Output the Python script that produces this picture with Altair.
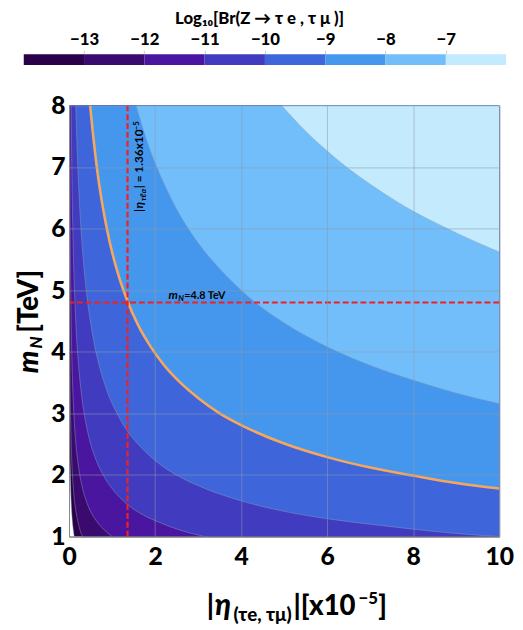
import altair as alt
import pandas as pd

# ---------------- data ----------------
LEVELS = [-14, -13, -12, -11, -10, -9, -8, -7]
BAND_COLORS = ["#2a0049", "#3b0a6e", "#4a169f", "#403bbf",
               "#3e66da", "#4597ee", "#72befa", "#c4eafd"]
CBAR_TICKS = [-13, -12, -11, -10, -9, -8, -7]
X_TICKS = [0, 2, 4, 6, 8, 10]
Y_TICKS = [1, 2, 3, 4, 5, 6, 7, 8]

# contour boundaries (|eta| in 1e-5, m_N in TeV)
ETA_L14 = [0.0019, 0.0025, 0.0033, 0.0045, 0.006, 0.008, 0.011, 0.015, 0.02, 0.027,
           0.036, 0.048, 0.064, 0.085, 0.12, 0.25, 10.0]
MN_L14 = [8.0, 6.93, 6.03, 5.16, 4.47, 3.87, 3.30, 2.83, 2.45, 2.11,
          1.83, 1.58, 1.37, 1.19, 1.0, 0.69, 0.11]

ETA_L13 = [0.0049, 0.006, 0.0072, 0.0087, 0.0105, 0.013, 0.016, 0.02, 0.025, 0.032,
           0.04, 0.05, 0.063, 0.08, 0.1, 0.125, 0.16, 0.2, 0.25, 0.32, 0.6, 10.0]
MN_L13 = [8.0, 7.26, 6.62, 6.03, 5.49, 4.93, 4.44, 3.97, 3.56, 3.14,
          2.81, 2.51, 2.24, 1.99, 1.78, 1.59, 1.41, 1.26, 1.12, 0.99, 0.73, 0.18]

ETA_L12 = [0.0156, 0.018, 0.021, 0.025, 0.03, 0.036, 0.044, 0.054, 0.066, 0.08,
           0.1, 0.125, 0.16, 0.2, 0.25, 0.32, 0.4, 0.5, 0.63, 0.8, 1.0, 2.0, 10.0]
MN_L12 = [8.0, 7.45, 6.9, 6.32, 5.77, 5.27, 4.77, 4.30, 3.89, 3.54,
          3.16, 2.83, 2.5, 2.24, 2.0, 1.77, 1.58, 1.41, 1.26, 1.12, 1.0, 0.71, 0.32]

ETA_L11 = [0.049, 0.057, 0.066, 0.079, 0.095, 0.115, 0.14, 0.17, 0.21, 0.26,
           0.32, 0.4, 0.5, 0.63, 0.8, 1.0, 1.36, 1.7, 2.1, 2.6, 3.16, 5.0, 10.0]
MN_L11 = [8.0, 7.45, 6.92, 6.32, 5.77, 5.24, 4.75, 4.31, 3.88, 3.49,
          3.14, 2.81, 2.51, 2.24, 1.99, 1.78, 1.52, 1.36, 1.23, 1.10, 1.0, 0.8, 0.56]

ETA_L10 = [0.156, 0.18, 0.21, 0.25, 0.3, 0.36, 0.43, 0.52, 0.63, 0.76, 0.9, 1.1,
           1.36, 1.7, 2.1, 2.6, 3.2, 4.0, 5.0, 6.0, 7.0, 8.0, 9.0, 10.0]
MN_L10 = [8.0, 7.45, 6.9, 6.32, 5.77, 5.27, 4.82, 4.39, 3.98, 3.63, 3.33, 3.02,
          2.71, 2.43, 2.18, 1.96, 1.77, 1.58, 1.41, 1.29, 1.20, 1.12, 1.05, 1.0]

ETA_L9 = [0.49, 0.55, 0.62, 0.7, 0.8, 0.9, 1.0, 1.15, 1.36, 1.6, 1.9, 2.2, 2.6,
          3.0, 3.5, 4.0, 5.0, 6.0, 7.0, 8.0, 9.0, 10.0]
MN_L9 = [8.0, 7.58, 7.14, 6.72, 6.29, 5.93, 5.62, 5.24, 4.82, 4.44, 4.08, 3.79, 3.49,
         3.25, 3.0, 2.81, 2.51, 2.29, 2.12, 1.99, 1.87, 1.78]

ETA_L8 = [1.56, 1.7, 1.85, 2.0, 2.25, 2.5, 3.0, 3.5, 4.0, 4.5, 5.0, 6.0, 7.0, 8.0, 9.0, 10.0]
MN_L8 = [8.0, 7.67, 7.35, 7.07, 6.67, 6.32, 5.77, 5.35, 5.0, 4.71, 4.47, 4.08, 3.78,
         3.54, 3.33, 3.16]

ETA_L7 = [4.94, 5.2, 5.5, 6.0, 6.5, 7.0, 7.5, 8.0, 8.5, 9.0, 9.5, 10.0]
MN_L7 = [8.0, 7.80, 7.58, 7.26, 6.97, 6.72, 6.49, 6.28, 6.10, 5.93, 5.77, 5.62]

ETA_BOUND = 1.36   # |eta| bound (x1e-5)
MN_BOUND = 4.8     # m_N (TeV)

CURVES = [(-14, ETA_L14, MN_L14), (-13, ETA_L13, MN_L13), (-12, ETA_L12, MN_L12),
          (-11, ETA_L11, MN_L11), (-10, ETA_L10, MN_L10), (-9, ETA_L9, MN_L9),
          (-8, ETA_L8, MN_L8), (-7, ETA_L7, MN_L7)]

# ---------------- styling ----------------
FONT = "Lato"
HEAVY = 900
W, H = 437, 438

xs = alt.Scale(domain=[0, 10], nice=False, zero=False)
ys = alt.Scale(domain=[1, 8], nice=False, zero=False)

x_axis = alt.Axis(values=X_TICKS, title=None, labelFont=FONT, labelFontSize=25,
                  labelFontWeight=HEAVY, labelColor="black", labelPadding=8,
                  labelFlush=False, labelOverlap=False, ticks=False, grid=True,
                  gridColor="#8e9aab", gridOpacity=0.55, gridWidth=1,
                  domainColor="#8a8a8a", zindex=1)
y_axis = alt.Axis(values=Y_TICKS, title=None, labelFont=FONT, labelFontSize=25,
                  labelFontWeight=HEAVY, labelColor="black", labelPadding=4,
                  labelFlush=False, labelOverlap=False, ticks=False, grid=True,
                  gridColor="#8e9aab", gridOpacity=0.55, gridWidth=1,
                  domainColor="#8a8a8a", zindex=1)


def X():
    return alt.X("eta:Q", scale=xs, axis=x_axis)


def Y():
    return alt.Y("mn:Q", scale=ys, axis=y_axis)


layers = []
# filled contour bands: each level fills from its boundary up to the top
for (lvl, eta, mn), col in zip(CURVES, BAND_COLORS):
    d = pd.DataFrame({"eta": eta, "mn": mn})
    layers.append(
        alt.Chart(d).mark_area(color=col, interpolate="monotone", clip=True)
        .encode(x=X(), y=Y(), y2=alt.datum(8))
    )
# thin contour lines
for (lvl, eta, mn) in CURVES:
    d = pd.DataFrame({"eta": eta, "mn": mn})
    layers.append(
        alt.Chart(d).mark_line(color="#8aa0b8", strokeWidth=0.8, opacity=0.6,
                               interpolate="monotone", clip=True)
        .encode(x=X(), y=Y())
    )
# orange bound contour
layers.append(
    alt.Chart(pd.DataFrame({"eta": ETA_L9, "mn": MN_L9}))
    .mark_line(color="#f6a75c", strokeWidth=2.6, interpolate="monotone", clip=True)
    .encode(x=X(), y=Y())
)
# red dashed lines
layers.append(
    alt.Chart(pd.DataFrame({"eta": [ETA_BOUND]}))
    .mark_rule(color="#f2201e", strokeWidth=2.2, strokeDash=[6, 3])
    .encode(x=X())
)
layers.append(
    alt.Chart(pd.DataFrame({"mn": [MN_BOUND]}))
    .mark_rule(color="#f2201e", strokeWidth=2.2, strokeDash=[6, 3])
    .encode(y=Y())
)


def data_text(s, eta, mn, size, style="normal", angle=0, dx=0, dy=0):
    d = pd.DataFrame({"eta": [eta], "mn": [mn], "t": [s]})
    kw = dict(font=FONT, fontSize=size, fontWeight="bold", fontStyle=style,
              color="black", align="left", baseline="alphabetic", dx=dx, dy=dy)
    if angle:
        kw["angle"] = angle
    return alt.Chart(d).mark_text(**kw).encode(x=X(), y=Y(), text="t:N")


def px_text(s, x, y, size, style="normal", angle=0, dx=0, dy=0):
    d = pd.DataFrame({"t": [s]})
    kw = dict(font=FONT, fontSize=size, fontWeight=HEAVY, fontStyle=style,
              color="black", align="left", baseline="alphabetic", dx=dx, dy=dy)
    if angle:
        kw["angle"] = angle
    return alt.Chart(d).mark_text(**kw).encode(x=alt.value(x), y=alt.value(y), text="t:N")


# annotation: m_N = 4.8 TeV
layers += [
    data_text("m", 2.31, MN_BOUND, 12, "italic", dy=-4),
    data_text("N", 2.31, MN_BOUND, 8, "italic", dx=10, dy=-2),
    data_text("=4.8 TeV", 2.31, MN_BOUND, 11, dx=16, dy=-4),
]
# annotation: |eta| = 1.36x10^-5 (vertical)
layers += [
    data_text("|", ETA_BOUND, 6.27, 12, angle=270, dx=0, dy=16),
    data_text("η", ETA_BOUND, 6.27, 12, "italic", angle=270, dx=3.5, dy=16),
    data_text("τℓα", ETA_BOUND, 6.27, 8, "italic", angle=270, dx=11, dy=18.5),
    data_text("| = 1.36x10", ETA_BOUND, 6.27, 12, angle=270, dx=24, dy=16),
    data_text("−5", ETA_BOUND, 6.27, 8, angle=270, dx=83, dy=12),
]
# y-axis title  m_N[TeV]
layers += [
    px_text("m", -32, 272, 29, "italic", angle=270),
    px_text("N", -32, 272, 17, "italic", angle=270, dx=25, dy=5),
    px_text("[TeV]", -32, 272, 28, angle=270, dx=41),
]
# x-axis title |eta_(tau e, tau mu)|[x10^-5]
layers += [
    px_text("|", 140, 518, 28),
    px_text("η", 148, 518, 30, "italic"),
    px_text("(τe, τμ)", 167, 524, 19),
    px_text("|[x10", 228, 518, 28),
    px_text("−5", 294, 506, 17),
    px_text("]", 314, 518, 28),
]

main = alt.layer(*layers).properties(width=W, height=H)

# ---------------- colour bar ----------------
cb = pd.DataFrame({"lo": LEVELS, "hi": [l + 1 for l in LEVELS], "col": BAND_COLORS})
colorbar = (
    alt.Chart(cb)
    .mark_rect(clip=False)
    .encode(
        x=alt.X("lo:Q",
                scale=alt.Scale(domain=[-13.249, -6.114], nice=False, zero=False),
                axis=alt.Axis(orient="top", values=CBAR_TICKS,
                              labelExpr="'−' + abs(datum.value)",
                              labelFont=FONT, labelFontSize=17, labelFontWeight=HEAVY,
                              labelColor="black", labelPadding=2, labelFlush=False,
                              domain=False, grid=False, tickColor="#cccccc", tickSize=4,
                              title="Log₁₀[Br(Z → τ e , τ μ )]", titleFont=FONT,
                              titleFontSize=17, titleFontWeight=HEAVY, titleColor="black",
                              titleX=193, titleY=-31, titleAlign="center",
                              titleBaseline="alphabetic")),
        x2="hi:Q",
        color=alt.Color("col:N", scale=None),
    )
    .properties(width=W, height=11, view=alt.ViewBackground(stroke="transparent"))
)

chart = (
    alt.vconcat(colorbar, main, spacing=41, bounds="flush")
    .properties(padding={"left": 6, "top": -4, "right": 0, "bottom": 0})
    .configure(font=FONT)
    .configure_view(stroke="#7d8896", strokeWidth=1)
)

chart.save("out.html", embed_options={"renderer": "svg", "actions": False})
